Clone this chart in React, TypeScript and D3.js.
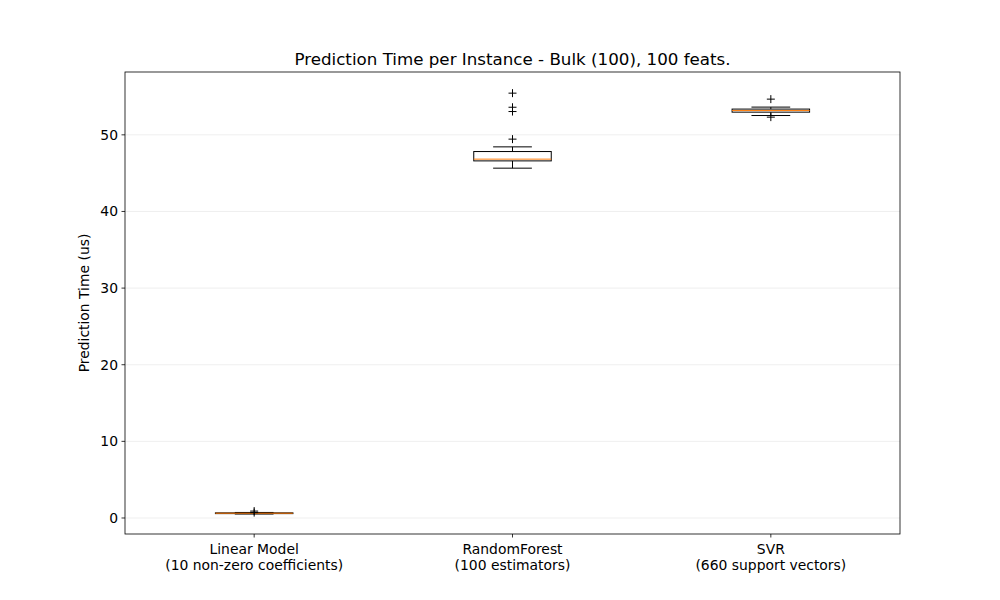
import React from "react";
import * as d3 from "d3";

const categories = ["Linear Model\n(10 non-zero coefficients)", "RandomForest\n(100 estimators)", "SVR\n(660 support vectors)"];
const q1 = [0.57, 46.6, 52.96];
const medians = [0.62, 46.83, 53.17];
const q3 = [0.67, 47.82, 53.36];
const whiskerLow = [0.52, 45.65, 52.52];
const whiskerHigh = [0.72, 48.43, 53.62];
const outliers = [[0.9, 0.7], [55.44, 53.6, 53.04, 49.44], [54.66, 52.31]];
const yTicks = [0, 10, 20, 30, 40, 50];

const W = 1000, H = 600;
const left = 125, right = 900, top = 72, bottom = 534;
const font = "DejaVu Sans, sans-serif";

export default function App() {
  const y = d3.scaleLinear().domain([-2.09, 58.2]).range([bottom, top]);
  const x = d3.scaleLinear().domain([0.5, 3.5]).range([left, right]);
  const bw = x(1.3) - x(1);
  const cw = bw / 2;
  return (
    <svg width={W} height={H} style={{ position: "absolute", left: 0, top: 0, background: "#fff" }}>
      <rect x={0} y={0} width={W} height={H} fill="#fff" />
      {yTicks.map((t) => (
        <g key={t}>
          <line x1={left} x2={right} y1={y(t)} y2={y(t)} stroke="#ebebeb" strokeWidth={0.8} />
          <line x1={left - 3.5} x2={left} y1={y(t)} y2={y(t)} stroke="#000" strokeWidth={0.8} />
          <text x={left - 7} y={y(t)} dy="0.35em" textAnchor="end" fontSize={13.9} fontFamily={font}>{t}</text>
        </g>
      ))}
      {categories.map((c, i) => {
        const cx = x(i + 1);
        return (
          <g key={c}>
            <line x1={cx} x2={cx} y1={y(q3[i])} y2={y(whiskerHigh[i])} stroke="#000" strokeWidth={1} />
            <line x1={cx} x2={cx} y1={y(q1[i])} y2={y(whiskerLow[i])} stroke="#000" strokeWidth={1} />
            <line x1={cx - cw / 2} x2={cx + cw / 2} y1={y(whiskerHigh[i])} y2={y(whiskerHigh[i])} stroke="#000" strokeWidth={1} />
            <line x1={cx - cw / 2} x2={cx + cw / 2} y1={y(whiskerLow[i])} y2={y(whiskerLow[i])} stroke="#000" strokeWidth={1} />
            <rect x={cx - bw / 2} width={bw} y={y(q3[i])} height={y(q1[i]) - y(q3[i])} fill="none" stroke="#000" strokeWidth={1} />
            <line x1={cx - bw / 2} x2={cx + bw / 2} y1={y(medians[i])} y2={y(medians[i])} stroke="#ff7f0e" strokeWidth={1} />
            {outliers[i].map((o, j) => (
              <path key={j} d={`M${cx - 4},${y(o)}h8M${cx},${y(o) - 4}v8`} stroke="#000" strokeWidth={1} fill="none" />
            ))}
            <line x1={cx} x2={cx} y1={bottom} y2={bottom + 3.5} stroke="#000" strokeWidth={0.8} />
            {c.split("\n").map((line, k) => (
              <text key={k} x={cx} y={bottom + 20 + k * 16} textAnchor="middle" fontSize={13.9} fontFamily={font}>{line}</text>
            ))}
          </g>
        );
      })}
      <rect x={left} y={top} width={right - left} height={bottom - top} fill="none" stroke="#000" strokeWidth={0.8} />
      <text x={(left + right) / 2} y={top - 7} textAnchor="middle" fontSize={16.7} fontFamily={font}>Prediction Time per Instance - Bulk (100), 100 feats.</text>
      <text transform={`translate(89,${(top + bottom) / 2}) rotate(-90)`} textAnchor="middle" fontSize={13.9} fontFamily={font}>Prediction Time (us)</text>
    </svg>
  );
}
